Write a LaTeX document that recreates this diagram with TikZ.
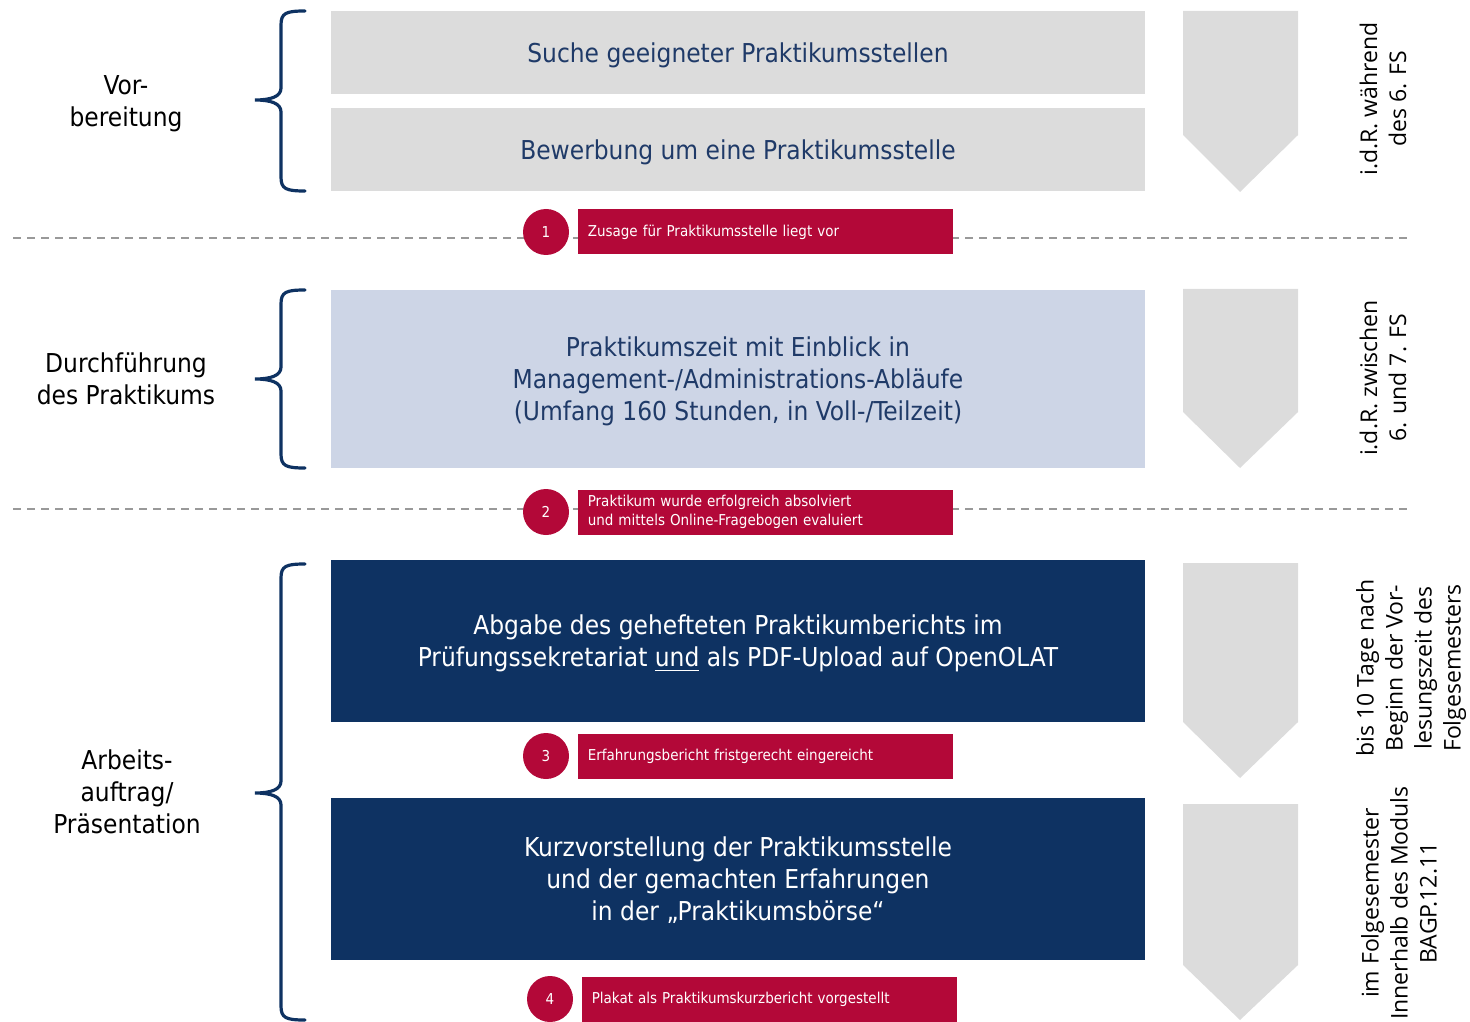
\documentclass[tikz,border=0pt]{standalone}
\usepackage{fontspec}
\setmainfont{DejaVu Sans Condensed}
\newfontfamily\notefont{Open Sans}
\usetikzlibrary
  {
    positioning, % place nodes relative to other nodes
  }

\begin{document}
\begin{tikzpicture}
    [
      x=0.5pt, y=-0.5pt,
      % Styles
      step box/.style={anchor=north west, inner sep=0pt, outer sep=0pt, text depth=0pt,
        minimum width=407pt, align=center, font=\fontsize{13}{16}\selectfont},
      grey box/.style={step box, fill=boxgrey, text=textblue},
      pale box/.style={step box, fill=boxpale, text=textblue},
      dark box/.style={step box, fill=navy, text=white},
      phase/.style={align=center, font=\fontsize{13}{16}\selectfont},
      badge/.style={circle, fill=crimson, text=white, minimum size=23pt,
        inner sep=0pt, font=\fontsize{7.5}{9}\selectfont},
      note/.style={anchor=west, fill=crimson, text=white, inner xsep=5pt,
        inner ysep=0pt, text width=177.5pt, minimum height=22.5pt,
        align=left, font=\fontsize{7.5}{9.5}\selectfont},
      when/.style={rotate=90, align=center, font=\notefont\fontsize{11.5}{14.5}\selectfont},
      brace/.style={draw=navy, line width=1.6pt, line cap=round},
      sep line/.style={draw=black!40, line width=0.8pt, dash pattern=on 4pt off 3pt},
    ]

    % Colors
    \definecolor{boxgrey}{HTML}{DCDCDC}
    \definecolor{boxpale}{HTML}{CDD5E6}
    \definecolor{navy}{HTML}{0E3262}
    \definecolor{textblue}{HTML}{1F3A68}
    \definecolor{crimson}{HTML}{B30838}

    \useasboundingbox (0,0) rectangle (1470,1021);

    % separators
    \draw [sep line] (13,238) -- (1410,238);
    \draw [sep line] (13,509) -- (1410,509);

    % phases on the left
    \node [phase] (vor)    at (126,104) {Vor-\\bereitung};
    \node [phase] (durch)  at (126,379) {Durchführung\\des Praktikums};
    \node [phase] (arbeit) at (127,792) {Arbeits-\\auftrag/\\Präsentation};

    % braces
    \foreach \t/\m/\b in {11/100/191, 290/379/468, 564/793/1020}
    {
      \draw [brace] (305,\t) .. controls (286,\t) and (281,{\t+2}) .. (281,{\t+14})
        -- (281,{\m-12}) .. controls (281,{\m-3}) and (270,\m) .. (255,\m)
        .. controls (270,\m) and (281,{\m+3}) .. (281,{\m+12})
        -- (281,{\b-14}) .. controls (281,{\b-2}) and (286,\b) .. (305,\b);
    }

    % steps
    \node [grey box, minimum height=41.5pt] (suche) at (331,11)
      {Suche geeigneter Praktikumsstellen};
    \node [grey box, minimum height=41.5pt] (bewerbung) at (331,108)
      {Bewerbung um eine Praktikumsstelle};
    \node [pale box, minimum height=89pt] (praktikum) at (331,290)
      {Praktikumszeit mit Einblick in\\Management-/Administrations-Abläufe\\(Umfang 160 Stunden, in Voll-/Teilzeit)};
    \node [dark box, minimum height=81pt] (abgabe) at (331,560)
      {Abgabe des gehefteten Praktikumberichts im\\Prüfungssekretariat \underline{und} als PDF-Upload auf OpenOLAT};
    \node [dark box, minimum height=81pt] (kurz) at (331,798)
      {Kurzvorstellung der Praktikumsstelle\\und der gemachten Erfahrungen\\in der „Praktikumsbörse“};

    % milestones
    \node [badge] (b1) at (546,232) {1};
    \node [note, right=4pt of b1] (z1) {Zusage für Praktikumsstelle liegt vor};
    \node [badge] (b2) at (546,512) {2};
    \node [note, right=4pt of b2] (z2)
      {Praktikum wurde erfolgreich absolviert\\und mittels Online-Fragebogen evaluiert};
    \node [badge] (b3) at (546,756) {3};
    \node [note, right=4pt of b3] (z3) {Erfahrungsbericht fristgerecht eingereicht};
    \node [badge] (b4) at (550,999) {4};
    \node [note, right=4pt of b4] (z4) {Plakat als Praktikumskurzbericht vorgestellt};

    % chevrons
    \foreach \t/\s/\p in {11/135/192, 289/412/468, 563/722/778, 804/965/1020}
    {
      \fill [boxgrey] (1183,\t) -- (1298,\t) -- (1298,\s) -- (1240,\p) -- (1183,\s) -- cycle;
    }

    % time notes
    \node [when] (t1) at (1383,99)  {i.d.R. während\\des 6. FS};
    \node [when] (t2) at (1383,378) {i.d.R. zwischen\\6. und 7. FS};
    \node [when] (t3) at (1411,668)
      {bis 10 Tage nach\\Beginn der Vor-\\lesungszeit des\\Folgesemesters};
    \node [when] (t4) at (1399,903)
      {im Folgesemester\\Innerhalb des Moduls\\BAGP.12.11};
  \end{tikzpicture}
\end{document}
